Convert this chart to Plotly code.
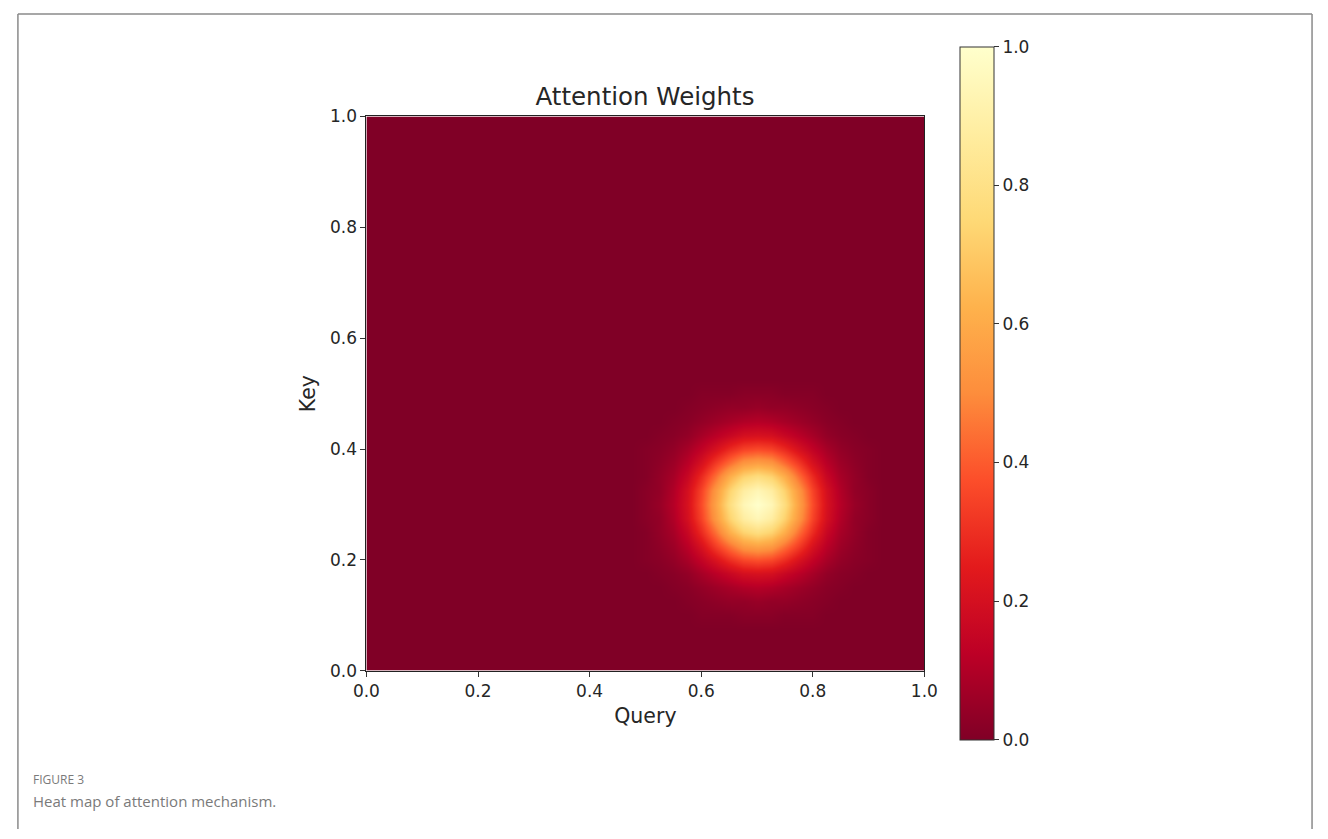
import numpy as np
import plotly.graph_objects as go

# Grid coordinates (Query on x, Key on y)
grid = [round(i * 0.025, 3) for i in range(41)]

# Patch of attention weights around the peak
patch_query = [0.5, 0.525, 0.55, 0.575, 0.6, 0.625, 0.65, 0.675, 0.7,
               0.725, 0.75, 0.775, 0.8, 0.825, 0.85, 0.875, 0.9]
patch_key = [0.1, 0.125, 0.15, 0.175, 0.2, 0.225, 0.25, 0.275, 0.3,
             0.325, 0.35, 0.375, 0.4, 0.425, 0.45, 0.475, 0.5]
r8 = [0.00, 0.00, 0.00, 0.00, 0.01, 0.01, 0.01, 0.02, 0.02, 0.02, 0.01, 0.01, 0.01, 0.00, 0.00, 0.00, 0.00]
r7 = [0.00, 0.00, 0.00, 0.01, 0.02, 0.03, 0.04, 0.04, 0.05, 0.04, 0.04, 0.03, 0.02, 0.01, 0.00, 0.00, 0.00]
r6 = [0.00, 0.00, 0.01, 0.02, 0.04, 0.06, 0.08, 0.10, 0.11, 0.10, 0.08, 0.06, 0.04, 0.02, 0.01, 0.00, 0.00]
r5 = [0.00, 0.01, 0.02, 0.04, 0.08, 0.12, 0.16, 0.20, 0.21, 0.20, 0.16, 0.12, 0.08, 0.04, 0.02, 0.01, 0.00]
r4 = [0.01, 0.02, 0.04, 0.08, 0.14, 0.21, 0.29, 0.35, 0.37, 0.35, 0.29, 0.21, 0.14, 0.08, 0.04, 0.02, 0.01]
r3 = [0.01, 0.03, 0.06, 0.12, 0.21, 0.33, 0.44, 0.54, 0.57, 0.54, 0.44, 0.33, 0.21, 0.12, 0.06, 0.03, 0.01]
r2 = [0.01, 0.04, 0.08, 0.16, 0.29, 0.44, 0.61, 0.73, 0.78, 0.73, 0.61, 0.44, 0.29, 0.16, 0.08, 0.04, 0.01]
r1 = [0.02, 0.04, 0.10, 0.20, 0.35, 0.54, 0.73, 0.88, 0.94, 0.88, 0.73, 0.54, 0.35, 0.20, 0.10, 0.04, 0.02]
r0 = [0.02, 0.05, 0.11, 0.21, 0.37, 0.57, 0.78, 0.94, 1.00, 0.94, 0.78, 0.57, 0.37, 0.21, 0.11, 0.05, 0.02]
patch = [r8, r7, r6, r5, r4, r3, r2, r1, r0, r1, r2, r3, r4, r5, r6, r7, r8]

tick_vals = [0.0, 0.2, 0.4, 0.6, 0.8, 1.0]
tick_text = ["0.0", "0.2", "0.4", "0.6", "0.8", "1.0"]

# Build full weight matrix (background weight is zero)
z = np.zeros((len(grid), len(grid)))
xi0 = grid.index(patch_query[0])
yi0 = grid.index(patch_key[0])
z[yi0:yi0 + len(patch_key), xi0:xi0 + len(patch_query)] = np.array(patch)

ylorrd_r = [
    [0.0, "#800026"], [0.125, "#bd0026"], [0.25, "#e31a1c"],
    [0.375, "#fc4e2a"], [0.5, "#fd8d3c"], [0.625, "#feb24c"],
    [0.75, "#fed976"], [0.875, "#ffeda0"], [1.0, "#ffffcc"],
]

W, H = 1328, 839
tick_font = dict(family="DejaVu Sans", size=17, color="#262626")

fig = go.Figure(go.Heatmap(
    x=grid, y=grid, z=z, zmin=0, zmax=1, zsmooth="best",
    colorscale=ylorrd_r,
    colorbar=dict(
        x=966 / W, xanchor="left", xpad=0,
        y=1 - 392.5 / H, yanchor="middle", ypad=0,
        lenmode="pixels", len=693, thickness=34,
        outlinewidth=1, outlinecolor="#333333",
        tickvals=tick_vals, ticktext=tick_text,
        ticks="outside", ticklen=5, tickwidth=1, tickcolor="#333333",
        tickfont=tick_font,
    ),
    hoverinfo="skip",
))

fig.update_layout(
    width=W, height=H,
    margin=dict(l=0, r=0, t=0, b=0),
    paper_bgcolor="white", plot_bgcolor="white",
    xaxis=dict(
        domain=[360 / W, 930 / W], range=[0, 1], showgrid=False, zeroline=False,
        tickvals=tick_vals, ticktext=tick_text, ticks="outside", ticklen=5,
        tickcolor="#333333", showline=True, linecolor="#222222", linewidth=1,
        mirror=True, tickfont=tick_font,
        title=dict(text="Query", font=dict(family="DejaVu Sans", size=20.5, color="#262626"),
                   standoff=8),
    ),
    yaxis=dict(
        domain=[1 - 677 / H, 1 - 109 / H], range=[0, 1], showgrid=False, zeroline=False,
        tickvals=tick_vals, ticktext=tick_text, ticks="outside", ticklen=5,
        tickcolor="#333333", showline=True, linecolor="#222222", linewidth=1,
        mirror=True, tickfont=tick_font,
        title=dict(text="Key", font=dict(family="DejaVu Sans", size=20.5, color="#262626"),
                   standoff=8),
    ),
    title=dict(text="Attention Weights", x=645 / W, xanchor="center",
               y=1 - 96 / H, yanchor="middle",
               font=dict(family="DejaVu Sans", size=24.5, color="#262626")),
    shapes=[
        dict(type="line", xref="paper", yref="paper", x0=4 / W, x1=4 / W, y0=0, y1=1 - 4 / H,
             line=dict(color="#8a8a8a", width=1.5)),
        dict(type="line", xref="paper", yref="paper", x0=4 / W, x1=1326 / W, y0=1 - 4 / H, y1=1 - 4 / H,
             line=dict(color="#8a8a8a", width=1.5)),
        dict(type="line", xref="paper", yref="paper", x0=1326 / W, x1=1326 / W, y0=0, y1=1 - 4 / H,
             line=dict(color="#8a8a8a", width=1.5)),
    ],
    annotations=[
        dict(text="FIGURE 3", xref="paper", yref="paper", x=17 / W, y=1 - 788 / H,
             xanchor="left", yanchor="middle", showarrow=False,
             font=dict(family="Open Sans", size=12, color="#7a7a7a")),
        dict(text="Heat map of attention mechanism.", xref="paper", yref="paper",
             x=17 / W, y=1 - 810 / H, xanchor="left", yanchor="middle", showarrow=False,
             font=dict(family="Open Sans", size=15, color="#7a7a7a")),
    ],
)

fig.write_html(
    "out.html",
    config={"displayModeBar": False},
    post_script="document.body.style.margin='0';"
                "document.documentElement.style.overflow='hidden';"
                "document.body.style.overflow='hidden';",
)
